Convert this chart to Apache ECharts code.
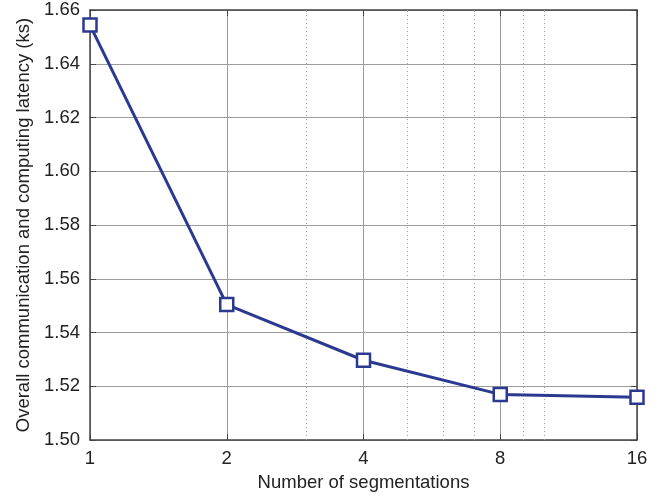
<!DOCTYPE html>
<html>
<head>
<meta charset="utf-8">
<script src="https://cdn.jsdelivr.net/npm/echarts@6/dist/echarts.min.js"></script>
<style>
html,body{margin:0;padding:0;background:#fff;}
#chart{width:659px;height:497px;}
</style>
</head>
<body>
<div id="chart"></div>
<script>
const segments = [1, 2, 4, 8, 16];
const latency = [1.6544, 1.5504, 1.5297, 1.5170, 1.5159];
const minorX = [3, 5, 6, 7, 9, 10];
const yMin = 1.50, yMax = 1.66, yStep = 0.02;
const xName = 'Number of segmentations';
const yName = 'Overall communication and computing latency (ks)';

const FONT = 'Liberation Sans, Arial, sans-serif';
const FS = 18.5;
const chart = echarts.init(document.getElementById('chart'));

const minorGrid = minorX.map(v => ({ xAxis: v }));
const minorTicks = [];
minorX.forEach(v => {
  minorTicks.push([{ coord: [v, yMin] }, { coord: [v, yMin + 0.0015] }]);
  minorTicks.push([{ coord: [v, yMax] }, { coord: [v, yMax - 0.0015] }]);
});

const axisLineStyle = { color: '#444', width: 1.5 };
chart.setOption({
  backgroundColor: '#fff',
  animation: false,
  grid: { left: 90, right: 22, top: 10, bottom: 55, containLabel: false },
  xAxis: [{
    type: 'log', logBase: 2, min: 1, max: 16,
    name: xName, nameLocation: 'middle', nameGap: 32,
    nameTextStyle: { fontFamily: FONT, fontSize: FS, color: '#222' },
    axisLine: { show: true, onZero: false, lineStyle: axisLineStyle },
    axisTick: { show: true, inside: true, length: 6, lineStyle: { color: '#444' } },
    axisLabel: { fontFamily: FONT, fontSize: FS, color: '#222', margin: 9,
      formatter: v => String(Math.round(v)) },
    splitLine: { show: true, lineStyle: { color: '#9c9c9c', width: 1 } },
    minorTick: { show: false }, minorSplitLine: { show: false }
  }, {
    type: 'log', logBase: 2, min: 1, max: 16, position: 'top',
    axisLine: { show: true, onZero: false, lineStyle: axisLineStyle },
    axisTick: { show: true, inside: true, length: 6, lineStyle: { color: '#444' } },
    axisLabel: { show: false }, splitLine: { show: false }
  }],
  yAxis: [{
    type: 'value', min: yMin, max: yMax, interval: yStep,
    name: yName, nameLocation: 'middle', nameGap: 57,
    nameTextStyle: { fontFamily: FONT, fontSize: FS, color: '#222' },
    axisLine: { show: true, lineStyle: axisLineStyle },
    axisTick: { show: true, inside: true, length: 6, lineStyle: { color: '#444' } },
    axisLabel: { fontFamily: FONT, fontSize: FS, color: '#222', margin: 10,
      formatter: v => v.toFixed(2) },
    splitLine: { show: true, lineStyle: { color: '#9c9c9c', width: 1 } }
  }, {
    type: 'value', min: yMin, max: yMax, interval: yStep, position: 'right',
    axisLine: { show: true, lineStyle: axisLineStyle },
    axisTick: { show: true, inside: true, length: 6, lineStyle: { color: '#444' } },
    axisLabel: { show: false }, splitLine: { show: false }
  }],
  series: [{
    type: 'line',
    xAxisIndex: 0, yAxisIndex: 0,
    data: segments.map((s, i) => [s, latency[i]]),
    symbol: 'rect', symbolSize: 13,
    itemStyle: { color: '#fff', borderColor: '#2b3990', borderWidth: 2.5 },
    lineStyle: { color: '#2b3990', width: 3 },
    z: 10,
    markLine: {
      silent: true, symbol: ['none', 'none'], animation: false,
      label: { show: false },
      lineStyle: { color: '#9a9a9a', type: [1, 3], width: 1 },
      emphasis: { disabled: true },
      data: minorGrid.concat(minorTicks)
    }
  }]
});
</script>
</body>
</html>
